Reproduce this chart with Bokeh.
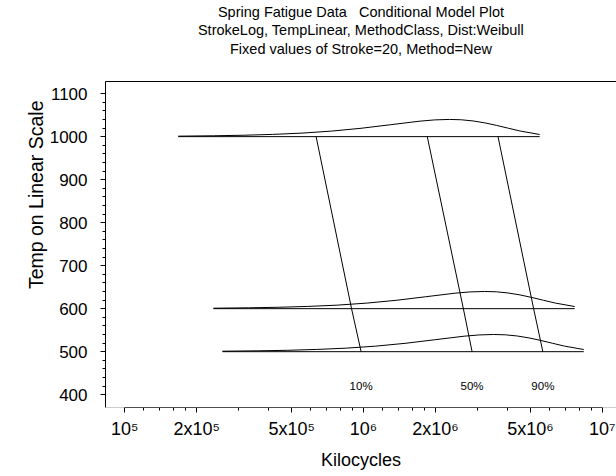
from bokeh.plotting import figure
from bokeh.models import Range1d, FixedTicker, Title, LinearAxis, Span
from bokeh.core.properties import value
from bokeh.embed import file_html
from bokeh.resources import INLINE

FONT = "Liberation Sans"

title_lines = ["Spring Fatigue Data \u00a0 Conditional Model Plot",
               "StrokeLog, TempLinear, MethodClass, Dist:Weibull",
               "Fixed values of Stroke=20, Method=New"]
x_title = "Kilocycles"
y_title = "Temp on Linear Scale"

temps = [1000, 600, 500]

# density curves (kilocycles, height above baseline in temp units)
dens_h = [1.1, 2.0, 3.2, 5.2, 8.2, 12.9, 19.4, 27.7, 36.0, 38.9, 40.0, 39.2, 36.5, 32.0, 26.1, 19.5, 13.0, 5.0]
curve_x_1000 = [1.675e5, 2.355e5, 3.13e5, 4.16e5, 5.53e5, 7.35e5, 9.76e5, 1.297e6, 1.724e6, 1.987e6,
                2.291e6, 2.567e6, 2.876e6, 3.223e6, 3.611e6, 4.046e6, 4.534e6, 5.47e6]
curve_x_600 = [2.35e5, 3.30e5, 4.39e5, 5.84e5, 7.76e5, 1.031e6, 1.369e6, 1.820e6, 2.419e6, 2.788e6,
               3.214e6, 3.602e6, 4.035e6, 4.522e6, 5.066e6, 5.677e6, 6.361e6, 7.67e6]
curve_x_500 = [2.564e5, 3.606e5, 4.79e5, 6.37e5, 8.47e5, 1.125e6, 1.494e6, 1.986e6, 2.639e6, 3.042e6,
               3.508e6, 3.930e6, 4.403e6, 4.934e6, 5.528e6, 6.194e6, 6.942e6, 8.37e6]
curves_x = [curve_x_1000, curve_x_600, curve_x_500]

# quantile lines at temps 1000, 600, 500
q_labels = ["10%", "50%", "90%"]
q10 = [6.33e5, 8.91e5, 9.77e5]
q50 = [1.85e6, 2.62e6, 2.85e6]
q90 = [3.66e6, 5.16e6, 5.64e6]
quantiles = [q10, q50, q90]

x_major = [100000, 200000, 500000, 1000000, 2000000, 5000000, 10000000]
x_labels = ["10\u2075", "2x10\u2075", "5x10\u2075", "10\u2076", "2x10\u2076", "5x10\u2076", "10\u2077"]
x_minor = [120000, 140000, 160000, 180000, 300000, 400000, 600000, 700000, 800000, 900000,
           1200000, 1400000, 1600000, 1800000, 3000000, 4000000, 6000000, 7000000, 8000000, 9000000]
y_major = [400, 500, 600, 700, 800, 900, 1000, 1100]
y_minor = [420, 440, 460, 480, 520, 540, 560, 580, 620, 640, 660, 680, 720, 740, 760, 780,
           820, 840, 860, 880, 920, 940, 960, 980, 1020, 1040, 1060, 1080]

Y0, Y1 = 370.2, 1128.2
p = figure(width=616, height=472, x_axis_type="log",
           x_range=Range1d(82985, 1.1478e7), y_range=Range1d(Y0, Y1),
           output_backend="svg", toolbar_location=None,
           min_border_left=105, min_border_right=0, min_border_top=81, min_border_bottom=64)
p.outline_line_color = None
p.xgrid.visible = False
p.ygrid.visible = False
p.background_fill_color = "white"
p.border_fill_color = "white"

# grey bottom edge of the frame (the axis line itself is black between 1e5 and 1e7)
p.add_layout(Span(location=Y0, dimension="width", line_color="#9a9a9a", line_width=1))

for t, cx in zip(temps, curves_x):
    p.line(cx, [t + h for h in dens_h], line_color="black", line_width=1)
    p.line([cx[0], cx[-1]], [t, t], line_color="black", line_width=1)

for q in quantiles:
    p.line(q, temps, line_color="black", line_width=1)

p.text(x=[q[-1] for q in quantiles], y=[420] * 3, text=q_labels,
       text_align="center", text_baseline="middle",
       text_font=value(FONT), text_font_size="11.5px", text_color="black")

xa = p.xaxis[0]
xa.ticker = FixedTicker(ticks=x_major, minor_ticks=x_minor)
xa.major_label_overrides = {k: v for k, v in zip(x_major, x_labels)}
xa.axis_label = x_title
xa.bounds = (x_major[0], x_major[-1])
ya = p.yaxis[0]
ya.ticker = FixedTicker(ticks=y_major, minor_ticks=y_minor)

for ax in (xa, ya):
    ax.axis_line_color = "black"
    ax.major_tick_line_color = "black"
    ax.minor_tick_line_color = "black"
    ax.major_tick_in = 0
    ax.major_tick_out = 5
    ax.minor_tick_in = 0
    ax.minor_tick_out = 3
    ax.major_label_text_font = FONT
    ax.major_label_text_color = "black"
    ax.axis_label_text_font = FONT
    ax.axis_label_text_font_style = "normal"
    ax.axis_label_text_color = "black"
xa.major_label_text_font_size = "18px"
xa.axis_label_text_font_size = "18px"
xa.major_label_standoff = 6
xa.axis_label_standoff = 8
ya.major_label_text_font_size = "17px"
ya.major_label_standoff = 13

# top border of the frame; its (tickless) label carries the third title line
top = LinearAxis(ticker=FixedTicker(ticks=[1000000], minor_ticks=[]),
                 axis_line_color="black", major_tick_line_color=None, minor_tick_line_color=None,
                 major_tick_in=0, major_tick_out=0, minor_tick_in=0, minor_tick_out=0,
                 major_label_text_font_size="1px", major_label_text_color=None,
                 major_label_standoff=0,
                 axis_label=title_lines[2], axis_label_standoff=25,
                 axis_label_text_font=FONT, axis_label_text_font_size="14.5px",
                 axis_label_text_font_style="normal", axis_label_text_color="black")
p.add_layout(top, "above")

for line in reversed(title_lines[:2]):
    p.add_layout(Title(text=line, align="center", standoff=0,
                       text_font=FONT, text_font_size="14.5px", text_font_style="normal",
                       text_color="black"), "above")

# y axis title, its top end a little below the top of the frame as in the original
p.add_layout(Title(text=y_title, align="right", offset=19, standoff=0,
                   text_font=FONT, text_font_size="19.5px", text_font_style="normal",
                   text_color="black"), "left")

open("out.html", "w").write(file_html(p, INLINE))
